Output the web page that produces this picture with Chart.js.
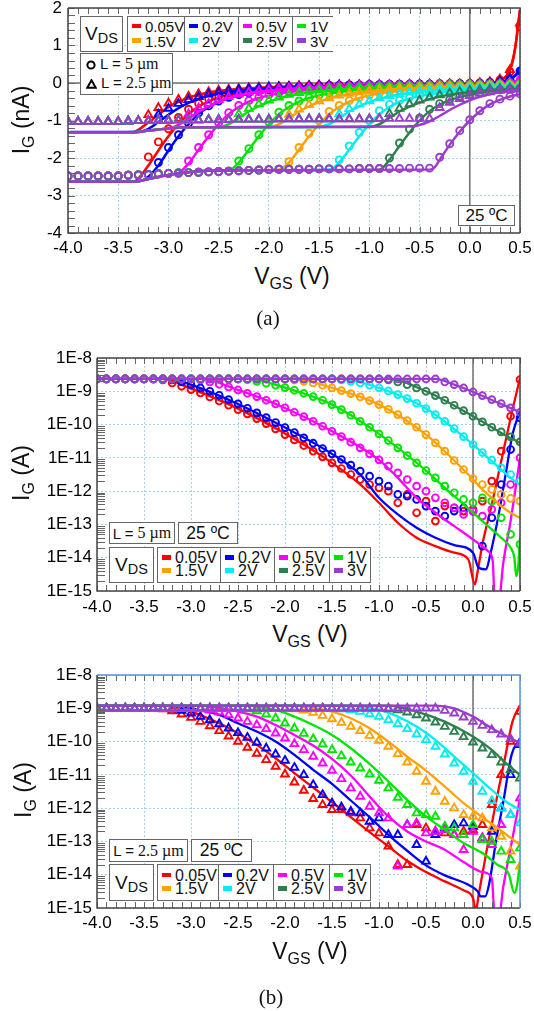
<!DOCTYPE html>
<html>
<head>
<meta charset="utf-8">
<title>IG vs VGS</title>
<script src="https://cdn.jsdelivr.net/npm/chart.js@4.4.1/dist/chart.umd.min.js"></script>
<style>
  html, body { margin: 0; padding: 0; background: #fff; }
  body { position: relative; width: 534px; height: 1011px; overflow: hidden;
         font-family: "Liberation Sans", Arial, sans-serif; color: #111; }
  canvas { position: absolute; left: 0; }
  .box { position: absolute; box-sizing: border-box; background: #fff; border: 1.5px solid #666; }
  .ctr { display: flex; align-items: center; justify-content: center; white-space: nowrap; }
  .lbl { position: absolute; white-space: nowrap; transform: translate(-50%, -50%); }
  .rot { transform: translate(-50%, -50%) rotate(-90deg); }
  .ttl { font-size: 23px; }
  .tsub { font-size: 16px; position: relative; top: 5px; }
  .dsub { font-size: 14.5px; position: relative; top: 4px; }
  .serif { font-family: "Liberation Serif", "Times New Roman", serif; }
  .vdiv { position: absolute; top: 0; bottom: 0; width: 0; border-left: 1.5px solid #666; }
  .sw { position: absolute; width: 9px; height: 4.5px; }
  .lt { position: absolute; line-height: 1; white-space: nowrap; }
  .lrow { position: absolute; left: 5px; white-space: nowrap; line-height: 17px; }
  .lrow svg { vertical-align: -1px; margin-right: 4px; }
</style>
</head>
<body>
<canvas id="chartA" width="534" height="262" style="top:0px"></canvas>
<canvas id="chartB" width="534" height="290" style="top:330px"></canvas>
<canvas id="chartC" width="534" height="290" style="top:650px"></canvas>

<!-- axis titles -->
<div class="lbl rot ttl" style="left:21px;top:120px">I<span class="tsub">G</span> (nA)</div>
<div class="lbl ttl" style="left:292px;top:276px">V<span class="tsub">GS</span> (V)</div>
<div class="lbl serif" style="left:268px;top:318px;font-size:21px">(a)</div>

<div class="lbl rot ttl" style="left:21px;top:473px">I<span class="tsub">G</span> (A)</div>
<div class="lbl ttl" style="left:310px;top:634px">V<span class="tsub">GS</span> (V)</div>

<div class="lbl rot ttl" style="left:23px;top:790px">I<span class="tsub">G</span> (A)</div>
<div class="lbl ttl" style="left:310px;top:951px">V<span class="tsub">GS</span> (V)</div>
<div class="lbl serif" style="left:271px;top:997px;font-size:21px">(b)</div>

<!-- panel (a) boxes -->
<div class="box ctr" style="left:80px;top:16px;width:43px;height:36px;font-size:19px">V<span class="dsub">DS</span></div>
<div class="box" style="left:80px;top:53px;width:93px;height:42px;font-size:15px">
  <div class="lrow" style="top:1px"><svg width="10" height="10" viewBox="0 0 10 10"><circle cx="5" cy="5" r="3.6" fill="none" stroke="#000" stroke-width="2"/></svg>L = <span class="serif" style="font-size:16px">5 µm</span></div>
  <div class="lrow" style="top:20px"><svg width="11" height="10" viewBox="0 0 11 10"><polygon points="5.5,1.2 9.8,8.8 1.2,8.8" fill="none" stroke="#000" stroke-width="2"/></svg>L = <span class="serif" style="font-size:16px">2.5 µm</span></div>
</div>
<div class="box ctr" style="left:458px;top:205px;width:57px;height:21px;font-size:17px">25 ºC</div>

<!-- panel (b) top boxes -->
<div class="box ctr" style="left:109px;top:522px;width:66px;height:22px;font-size:15px">L = <span class="serif" style="font-size:16px;margin-left:4px">5 µm</span></div>
<div class="box ctr" style="left:178px;top:522px;width:60px;height:22px;font-size:17.5px">25 ºC</div>
<div class="box ctr" style="left:109px;top:547px;width:45px;height:36px;font-size:19px">V<span class="dsub">DS</span></div>

<!-- panel (b) bottom boxes -->
<div class="box ctr" style="left:109px;top:839px;width:79px;height:23px;font-size:15px">L = <span class="serif" style="font-size:16px;margin-left:4px">2.5 µm</span></div>
<div class="box ctr" style="left:191px;top:839px;width:61px;height:23px;font-size:17.5px">25 ºC</div>
<div class="box ctr" style="left:109px;top:864px;width:45px;height:37px;font-size:19px">V<span class="dsub">DS</span></div>

<script>
// gate voltage grid of the measured points (V)
const vgs = [-4.0,-3.9,-3.8,-3.7,-3.6,-3.5,-3.4,-3.3,-3.2,-3.1,
             -3.0,-2.9,-2.8,-2.7,-2.6,-2.5,-2.4,-2.3,-2.2,-2.1,
             -2.0,-1.9,-1.8,-1.7,-1.6,-1.5,-1.4,-1.3,-1.2,-1.1,
             -1.0,-0.9,-0.8,-0.7,-0.6,-0.5,-0.4,-0.3,-0.2,-0.1,
              0.0, 0.1, 0.2, 0.3, 0.4, 0.5];

const vdsLabels = ['0.05V','0.2V','0.5V','1V','1.5V','2V','2.5V','3V'];
const colors = ['#ff0000','#0000ff','#ff00ff','#00e400','#ffa200','#00eef0','#2e7f4f','#9a3ccc'];

const xTickLabels = ['-4.0','-3.5','-3.0','-2.5','-2.0','-1.5','-1.0','-0.5','0.0','0.5'];
const aTickLabels = ['-4','-3','-2','-1','0','1','2'];
const logTickLabels = ['1E-15','1E-14','1E-13','1E-12','1E-11','1E-10','1E-9','1E-8'];

// (a) IG in nA, L = 5um circles, one list per VDS
const aCircle = [
  [-2.48,-2.48,-2.48,-2.48,-2.48,-2.48,-2.46,-2.45,-1.97,-1.57,
   -1.22,-0.92,-0.70,-0.54,-0.42,-0.34,-0.28,-0.23,-0.19,-0.16,
   -0.14,-0.12,-0.10,-0.09,-0.08,-0.07,-0.06,-0.06,-0.05,-0.05,
   -0.04,-0.04,-0.04,-0.03,-0.03,-0.03,-0.03,-0.02,-0.02,-0.02,
   -0.01,0.00,0.02,0.08,0.30,1.50],
  [-2.48,-2.48,-2.48,-2.48,-2.48,-2.48,-2.46,-2.45,-2.44,-2.12,
   -1.72,-1.38,-1.07,-0.80,-0.61,-0.48,-0.38,-0.31,-0.26,-0.22,
   -0.18,-0.15,-0.13,-0.11,-0.10,-0.09,-0.08,-0.07,-0.06,-0.06,
   -0.05,-0.05,-0.04,-0.04,-0.04,-0.03,-0.03,-0.03,-0.03,-0.02,
   -0.02,-0.01,0.00,0.03,0.10,0.32],
  [-2.48,-2.48,-2.48,-2.48,-2.48,-2.48,-2.46,-2.45,-2.44,-2.42,
   -2.41,-2.40,-2.08,-1.72,-1.38,-1.06,-0.79,-0.60,-0.47,-0.38,
   -0.31,-0.26,-0.22,-0.18,-0.15,-0.13,-0.11,-0.10,-0.09,-0.08,
   -0.07,-0.07,-0.06,-0.06,-0.05,-0.05,-0.05,-0.04,-0.04,-0.04,
   -0.03,-0.03,-0.02,-0.01,0.01,0.08],
  [-2.48,-2.48,-2.48,-2.48,-2.48,-2.48,-2.46,-2.45,-2.44,-2.42,
   -2.41,-2.40,-2.39,-2.38,-2.37,-2.36,-2.35,-2.08,-1.75,-1.38,
   -1.04,-0.78,-0.60,-0.48,-0.39,-0.32,-0.27,-0.23,-0.19,-0.16,
   -0.14,-0.12,-0.11,-0.10,-0.09,-0.08,-0.07,-0.07,-0.06,-0.06,
   -0.05,-0.05,-0.04,-0.04,-0.03,-0.02],
  [-2.48,-2.48,-2.48,-2.48,-2.48,-2.48,-2.46,-2.45,-2.44,-2.42,
   -2.41,-2.40,-2.39,-2.38,-2.37,-2.36,-2.35,-2.34,-2.33,-2.32,
   -2.31,-2.30,-2.10,-1.72,-1.34,-1.00,-0.76,-0.60,-0.47,-0.38,
   -0.32,-0.27,-0.23,-0.20,-0.17,-0.15,-0.13,-0.12,-0.11,-0.10,
   -0.09,-0.08,-0.07,-0.06,-0.06,-0.05],
  [-2.48,-2.48,-2.48,-2.48,-2.48,-2.48,-2.46,-2.45,-2.44,-2.42,
   -2.41,-2.40,-2.39,-2.38,-2.37,-2.36,-2.35,-2.34,-2.33,-2.32,
   -2.31,-2.30,-2.30,-2.30,-2.30,-2.29,-2.29,-2.05,-1.68,-1.32,
   -1.00,-0.74,-0.57,-0.46,-0.38,-0.32,-0.27,-0.23,-0.20,-0.18,
   -0.16,-0.14,-0.12,-0.11,-0.10,-0.09],
  [-2.48,-2.48,-2.48,-2.48,-2.48,-2.48,-2.46,-2.45,-2.44,-2.42,
   -2.41,-2.40,-2.39,-2.38,-2.37,-2.36,-2.35,-2.34,-2.33,-2.32,
   -2.31,-2.30,-2.30,-2.30,-2.30,-2.29,-2.29,-2.29,-2.29,-2.28,
   -2.28,-2.28,-2.00,-1.60,-1.23,-0.93,-0.70,-0.55,-0.44,-0.36,
   -0.30,-0.25,-0.21,-0.18,-0.16,-0.14],
  [-2.48,-2.48,-2.48,-2.48,-2.48,-2.48,-2.46,-2.45,-2.44,-2.42,
   -2.41,-2.40,-2.39,-2.38,-2.37,-2.36,-2.35,-2.34,-2.33,-2.32,
   -2.31,-2.30,-2.30,-2.30,-2.30,-2.29,-2.29,-2.29,-2.29,-2.28,
   -2.28,-2.28,-2.28,-2.28,-2.27,-2.27,-2.27,-1.98,-1.62,-1.27,
   -0.98,-0.74,-0.55,-0.43,-0.35,-0.29]
];

// (a) IG in nA, L = 2.5um triangles
const aTriangle = [
  [-1.03,-1.03,-1.03,-1.03,-1.03,-1.03,-1.02,-1.01,-0.85,-0.66,
   -0.54,-0.44,-0.36,-0.29,-0.24,-0.20,-0.17,-0.15,-0.13,-0.12,
   -0.11,-0.10,-0.09,-0.08,-0.07,-0.06,-0.06,-0.06,-0.06,-0.05,
   -0.05,-0.05,-0.05,-0.05,-0.05,-0.04,-0.04,-0.04,-0.03,-0.03,
   -0.02,0.00,0.03,0.10,0.35,1.60],
  [-1.03,-1.03,-1.03,-1.03,-1.03,-1.03,-1.02,-1.01,-1.01,-0.84,
   -0.68,-0.55,-0.45,-0.37,-0.30,-0.25,-0.21,-0.18,-0.16,-0.14,
   -0.12,-0.11,-0.10,-0.09,-0.08,-0.07,-0.07,-0.06,-0.06,-0.06,
   -0.05,-0.05,-0.05,-0.05,-0.04,-0.04,-0.04,-0.04,-0.03,-0.03,
   -0.03,-0.02,0.00,0.04,0.12,0.30],
  [-1.03,-1.03,-1.03,-1.03,-1.03,-1.03,-1.02,-1.01,-1.01,-1.00,
   -1.00,-0.99,-0.83,-0.67,-0.55,-0.45,-0.37,-0.30,-0.25,-0.21,
   -0.18,-0.16,-0.14,-0.13,-0.12,-0.11,-0.10,-0.09,-0.08,-0.07,
   -0.07,-0.06,-0.06,-0.06,-0.05,-0.05,-0.05,-0.05,-0.04,-0.04,
   -0.04,-0.03,-0.03,-0.02,0.00,0.06],
  [-1.03,-1.03,-1.03,-1.03,-1.03,-1.03,-1.02,-1.01,-1.01,-1.00,
   -1.00,-0.99,-0.99,-0.99,-0.98,-0.98,-0.98,-0.83,-0.68,-0.56,
   -0.46,-0.38,-0.31,-0.26,-0.22,-0.19,-0.16,-0.14,-0.13,-0.12,
   -0.11,-0.10,-0.09,-0.08,-0.08,-0.07,-0.07,-0.06,-0.06,-0.06,
   -0.05,-0.05,-0.05,-0.04,-0.04,-0.03],
  [-1.03,-1.03,-1.03,-1.03,-1.03,-1.03,-1.02,-1.01,-1.01,-1.00,
   -1.00,-0.99,-0.99,-0.99,-0.98,-0.98,-0.98,-0.97,-0.97,-0.97,
   -0.97,-0.96,-0.84,-0.70,-0.58,-0.48,-0.40,-0.33,-0.28,-0.24,
   -0.21,-0.18,-0.16,-0.14,-0.13,-0.12,-0.11,-0.10,-0.09,-0.09,
   -0.08,-0.08,-0.07,-0.07,-0.06,-0.06],
  [-1.03,-1.03,-1.03,-1.03,-1.03,-1.03,-1.02,-1.01,-1.01,-1.00,
   -1.00,-0.99,-0.99,-0.99,-0.98,-0.98,-0.98,-0.97,-0.97,-0.97,
   -0.97,-0.96,-0.96,-0.96,-0.96,-0.96,-0.96,-0.83,-0.69,-0.57,
   -0.48,-0.40,-0.34,-0.29,-0.25,-0.22,-0.19,-0.17,-0.15,-0.14,
   -0.13,-0.12,-0.11,-0.10,-0.10,-0.09],
  [-1.03,-1.03,-1.03,-1.03,-1.03,-1.03,-1.02,-1.01,-1.01,-1.00,
   -1.00,-0.99,-0.99,-0.99,-0.98,-0.98,-0.98,-0.97,-0.97,-0.97,
   -0.97,-0.96,-0.96,-0.96,-0.96,-0.96,-0.96,-0.96,-0.96,-0.96,
   -0.96,-0.95,-0.82,-0.68,-0.56,-0.46,-0.38,-0.32,-0.27,-0.23,
   -0.20,-0.18,-0.16,-0.15,-0.14,-0.13],
  [-1.03,-1.03,-1.03,-1.03,-1.03,-1.03,-1.02,-1.01,-1.01,-1.00,
   -1.00,-0.99,-0.99,-0.99,-0.98,-0.98,-0.98,-0.97,-0.97,-0.97,
   -0.97,-0.96,-0.96,-0.96,-0.96,-0.96,-0.96,-0.96,-0.96,-0.96,
   -0.96,-0.95,-0.95,-0.95,-0.95,-0.95,-0.95,-0.66,-0.52,-0.42,
   -0.34,-0.28,-0.24,-0.20,-0.18,-0.16]
];

// (a) model curves [VGS, IG nA]
const aFit5 = [
  [[-4,-2.63],[-3.35,-2.63],[-3.3,-2.55],[-3.2,-2.2],[-3.1,-1.8],[-3.0,-1.42],[-2.9,-1.1],[-2.8,-0.83],[-2.7,-0.63],[-2.6,-0.49],[-2.5,-0.39],[-2.4,-0.32],[-2.2,-0.23],[-2.0,-0.17],[-1.6,-0.11],[-1.0,-0.07],[-0.5,-0.05],[0.0,-0.03],[0.2,0.0],[0.3,0.06],[0.4,0.35],[0.45,0.9],[0.5,1.95]],
  [[-4,-2.63],[-3.3,-2.62],[-3.2,-2.5],[-3.1,-2.2],[-3.0,-1.8],[-2.9,-1.42],[-2.8,-1.1],[-2.7,-0.83],[-2.6,-0.64],[-2.5,-0.5],[-2.4,-0.4],[-2.2,-0.28],[-2.0,-0.2],[-1.6,-0.13],[-1.0,-0.08],[-0.5,-0.06],[0.0,-0.04],[0.2,-0.02],[0.3,0.02],[0.4,0.1],[0.5,0.3]],
  [[-4,-2.63],[-3.35,-2.63],[-3.2,-2.56],[-3.0,-2.45],[-2.9,-2.4],[-2.8,-2.15],[-2.7,-1.78],[-2.6,-1.42],[-2.5,-1.1],[-2.4,-0.83],[-2.3,-0.64],[-2.2,-0.5],[-2.1,-0.4],[-2.0,-0.33],[-1.8,-0.24],[-1.5,-0.16],[-1.0,-0.1],[-0.5,-0.07],[0.0,-0.05],[0.3,-0.03],[0.5,0.06]],
  [[-4,-2.63],[-3.35,-2.63],[-3.2,-2.56],[-3.0,-2.45],[-2.8,-2.38],[-2.6,-2.34],[-2.4,-2.33],[-2.3,-2.12],[-2.2,-1.78],[-2.1,-1.42],[-2.0,-1.1],[-1.9,-0.83],[-1.8,-0.64],[-1.7,-0.5],[-1.6,-0.4],[-1.5,-0.33],[-1.3,-0.24],[-1.0,-0.16],[-0.5,-0.1],[0.0,-0.07],[0.5,-0.04]],
  [[-4,-2.63],[-3.35,-2.63],[-3.2,-2.56],[-3.0,-2.45],[-2.8,-2.38],[-2.6,-2.34],[-2.4,-2.33],[-1.9,-2.31],[-1.8,-2.12],[-1.7,-1.78],[-1.6,-1.42],[-1.5,-1.1],[-1.4,-0.83],[-1.3,-0.64],[-1.2,-0.5],[-1.1,-0.4],[-1.0,-0.33],[-0.8,-0.24],[-0.5,-0.16],[0.0,-0.1],[0.5,-0.06]],
  [[-4,-2.63],[-3.35,-2.63],[-3.2,-2.56],[-3.0,-2.45],[-2.8,-2.38],[-2.6,-2.34],[-2.4,-2.33],[-1.4,-2.31],[-1.3,-2.12],[-1.2,-1.78],[-1.1,-1.42],[-1.0,-1.1],[-0.9,-0.83],[-0.8,-0.64],[-0.7,-0.5],[-0.6,-0.41],[-0.5,-0.35],[-0.3,-0.26],[0.0,-0.18],[0.5,-0.1]],
  [[-4,-2.63],[-3.35,-2.63],[-3.2,-2.56],[-3.0,-2.45],[-2.8,-2.38],[-2.6,-2.34],[-2.4,-2.33],[-0.9,-2.31],[-0.8,-2.05],[-0.7,-1.68],[-0.6,-1.32],[-0.5,-1.0],[-0.4,-0.75],[-0.3,-0.58],[-0.2,-0.46],[-0.1,-0.38],[0.0,-0.32],[0.2,-0.23],[0.5,-0.15]],
  [[-4,-2.63],[-3.35,-2.63],[-3.2,-2.56],[-3.0,-2.45],[-2.8,-2.38],[-2.6,-2.34],[-2.4,-2.33],[-0.4,-2.31],[-0.35,-2.25],[-0.3,-2.05],[-0.2,-1.65],[-0.1,-1.3],[0.0,-1.0],[0.1,-0.76],[0.2,-0.57],[0.3,-0.45],[0.4,-0.36],[0.5,-0.3]]
];
const aFit25 = [
  [[-4,-1.31],[-3.35,-1.31],[-3.3,-1.25],[-3.2,-1.05],[-3.1,-0.85],[-3.0,-0.64],[-2.9,-0.5],[-2.8,-0.39],[-2.7,-0.31],[-2.6,-0.25],[-2.4,-0.18],[-2.2,-0.14],[-2.0,-0.11],[-1.5,-0.07],[-1.0,-0.05],[-0.5,-0.04],[0.0,-0.02],[0.2,0.0],[0.3,0.06],[0.4,0.35],[0.45,0.9],[0.5,1.95]],
  [[-4,-1.31],[-3.3,-1.3],[-3.2,-1.22],[-3.1,-1.04],[-3.0,-0.85],[-2.9,-0.67],[-2.8,-0.53],[-2.7,-0.42],[-2.6,-0.34],[-2.5,-0.28],[-2.3,-0.2],[-2.0,-0.14],[-1.5,-0.09],[-1.0,-0.07],[-0.5,-0.05],[0.0,-0.04],[0.2,-0.02],[0.3,0.02],[0.4,0.1],[0.5,0.3]],
  [[-4,-1.31],[-3.35,-1.31],[-3.2,-1.27],[-3.0,-1.21],[-2.9,-1.12],[-2.8,-0.95],[-2.7,-0.77],[-2.6,-0.62],[-2.5,-0.5],[-2.4,-0.4],[-2.3,-0.33],[-2.2,-0.27],[-2.0,-0.2],[-1.7,-0.14],[-1.2,-0.09],[-0.5,-0.06],[0.0,-0.05],[0.3,-0.03],[0.5,0.06]],
  [[-4,-1.31],[-3.35,-1.31],[-3.2,-1.27],[-3.0,-1.21],[-2.8,-1.18],[-2.5,-1.18],[-2.4,-1.1],[-2.3,-0.93],[-2.2,-0.76],[-2.1,-0.62],[-2.0,-0.5],[-1.9,-0.41],[-1.8,-0.34],[-1.7,-0.28],[-1.5,-0.21],[-1.2,-0.15],[-0.7,-0.1],[0.0,-0.07],[0.5,-0.04]],
  [[-4,-1.31],[-3.35,-1.31],[-3.2,-1.27],[-3.0,-1.21],[-2.8,-1.18],[-2.0,-1.18],[-1.9,-1.1],[-1.8,-0.93],[-1.7,-0.76],[-1.6,-0.62],[-1.5,-0.5],[-1.4,-0.41],[-1.3,-0.34],[-1.2,-0.29],[-1.0,-0.22],[-0.7,-0.16],[-0.2,-0.11],[0.5,-0.07]],
  [[-4,-1.31],[-3.35,-1.31],[-3.2,-1.27],[-3.0,-1.21],[-2.8,-1.18],[-1.5,-1.17],[-1.4,-1.1],[-1.3,-0.93],[-1.2,-0.76],[-1.1,-0.62],[-1.0,-0.51],[-0.9,-0.42],[-0.8,-0.35],[-0.7,-0.3],[-0.5,-0.23],[-0.2,-0.17],[0.2,-0.13],[0.5,-0.11]],
  [[-4,-1.31],[-3.35,-1.31],[-3.2,-1.27],[-3.0,-1.21],[-2.8,-1.18],[-1.0,-1.17],[-0.9,-1.1],[-0.8,-0.93],[-0.7,-0.76],[-0.6,-0.63],[-0.5,-0.52],[-0.4,-0.43],[-0.3,-0.36],[-0.2,-0.31],[0.0,-0.24],[0.2,-0.19],[0.5,-0.15]],
  [[-4,-1.31],[-3.35,-1.31],[-3.2,-1.27],[-3.0,-1.21],[-2.8,-1.18],[-0.6,-1.16],[-0.5,-1.12],[-0.4,-1.02],[-0.3,-0.88],[-0.2,-0.72],[-0.1,-0.58],[0.0,-0.46],[0.1,-0.37],[0.2,-0.3],[0.3,-0.25],[0.4,-0.21],[0.5,-0.18]]
];

// (b) top, L = 5um: log10(IG / A)
const bCircle = [
  [-8.63,-8.63,-8.63,-8.63,-8.63,-8.63,-8.63,-8.66,-8.75,-8.85,
   -8.95,-9.05,-9.17,-9.29,-9.42,-9.55,-9.68,-9.82,-9.97,-10.13,
   -10.30,-10.46,-10.63,-10.80,-10.97,-11.15,-11.32,-11.50,-11.65,-11.80,
   -11.90,-12.00,-12.35,-12.10,-12.65,-12.30,-12.90,-12.45,-12.50,-12.60,
   -12.55,-12.30,-11.70,-10.80,-9.75,-8.65],
  [-8.63,-8.63,-8.63,-8.63,-8.63,-8.63,-8.63,-8.63,-8.66,-8.72,
   -8.80,-8.90,-9.00,-9.12,-9.25,-9.38,-9.51,-9.65,-9.79,-9.94,
   -10.09,-10.24,-10.40,-10.56,-10.72,-10.88,-11.05,-11.22,-11.40,-11.55,
   -11.70,-11.85,-12.10,-12.15,-12.25,-12.45,-12.60,-12.75,-12.60,-12.50,
   -12.60,-13.65,-12.80,-11.80,-10.75,-9.80],
  [-8.63,-8.63,-8.63,-8.63,-8.63,-8.63,-8.63,-8.63,-8.63,-8.63,
   -8.63,-8.66,-8.72,-8.79,-8.87,-8.96,-9.06,-9.16,-9.27,-9.38,
   -9.50,-9.63,-9.76,-9.90,-10.05,-10.20,-10.36,-10.53,-10.70,-10.88,
   -11.06,-11.25,-11.45,-11.65,-11.85,-12.00,-12.20,-12.35,-12.50,-12.70,
   -12.60,-12.75,-12.55,-12.35,-11.80,-11.00],
  [-8.63,-8.63,-8.63,-8.63,-8.63,-8.63,-8.63,-8.63,-8.63,-8.63,
   -8.63,-8.63,-8.63,-8.63,-8.63,-8.63,-8.65,-8.70,-8.76,-8.82,
   -8.89,-8.97,-9.06,-9.16,-9.27,-9.40,-9.55,-9.72,-9.90,-10.08,
   -10.28,-10.48,-10.70,-10.93,-11.15,-11.38,-11.60,-11.85,-12.05,-12.25,
   -12.35,-12.20,-12.30,-12.80,-13.30,-13.60],
  [-8.63,-8.63,-8.63,-8.63,-8.63,-8.63,-8.63,-8.63,-8.63,-8.63,
   -8.63,-8.63,-8.63,-8.63,-8.63,-8.63,-8.63,-8.63,-8.63,-8.63,
   -8.63,-8.66,-8.70,-8.75,-8.82,-8.90,-8.98,-9.07,-9.17,-9.28,
   -9.40,-9.54,-9.70,-9.88,-10.08,-10.30,-10.55,-10.80,-11.08,-11.35,
   -11.62,-11.80,-11.95,-12.10,-12.22,-12.30],
  [-8.63,-8.63,-8.63,-8.63,-8.63,-8.63,-8.63,-8.63,-8.63,-8.63,
   -8.63,-8.63,-8.63,-8.63,-8.63,-8.63,-8.63,-8.63,-8.63,-8.63,
   -8.63,-8.63,-8.63,-8.63,-8.63,-8.63,-8.66,-8.70,-8.75,-8.82,
   -8.90,-8.99,-9.10,-9.22,-9.36,-9.52,-9.70,-9.90,-10.12,-10.36,
   -10.60,-10.84,-11.07,-11.30,-11.50,-11.70],
  [-8.63,-8.63,-8.63,-8.63,-8.63,-8.63,-8.63,-8.63,-8.63,-8.63,
   -8.63,-8.63,-8.63,-8.63,-8.63,-8.63,-8.63,-8.63,-8.63,-8.63,
   -8.63,-8.63,-8.63,-8.63,-8.63,-8.63,-8.63,-8.63,-8.63,-8.63,
   -8.63,-8.66,-8.72,-8.80,-8.90,-9.00,-9.13,-9.27,-9.42,-9.58,
   -9.75,-9.92,-10.08,-10.22,-10.37,-10.52],
  [-8.63,-8.63,-8.63,-8.63,-8.63,-8.63,-8.63,-8.63,-8.63,-8.63,
   -8.63,-8.63,-8.63,-8.63,-8.63,-8.63,-8.63,-8.63,-8.63,-8.63,
   -8.63,-8.63,-8.63,-8.63,-8.63,-8.63,-8.63,-8.63,-8.63,-8.63,
   -8.63,-8.63,-8.63,-8.63,-8.63,-8.63,-8.63,-8.72,-8.80,-8.90,
   -9.02,-9.13,-9.25,-9.37,-9.50,-9.63]
];
const bFit = [
  [[-4,-8.63],[-3.3,-8.63],[-3.0,-8.92],[-2.5,-9.52],[-2.0,-10.27],[-1.5,-11.15],[-1.2,-11.8],[-1.0,-12.35],[-0.8,-12.95],[-0.6,-13.4],[-0.4,-13.65],[-0.2,-13.85],[-0.05,-14.05],[0.02,-14.8],[0.05,-14.4],[0.1,-13.6],[0.2,-12.4],[0.3,-11.1],[0.4,-9.8],[0.5,-8.6]],
  [[-4,-8.63],[-3.2,-8.63],[-3.0,-8.8],[-2.5,-9.38],[-2.0,-10.09],[-1.5,-10.88],[-1.2,-11.5],[-1.0,-12.2],[-0.8,-12.7],[-0.6,-13.1],[-0.4,-13.4],[-0.2,-13.62],[0.0,-13.85],[0.06,-14.3],[0.14,-14.35],[0.18,-13.95],[0.27,-12.75],[0.35,-11.45],[0.42,-10.3],[0.5,-9.6]],
  [[-4,-8.63],[-2.9,-8.63],[-2.5,-8.96],[-2.0,-9.5],[-1.5,-10.2],[-1.0,-11.06],[-0.8,-11.6],[-0.6,-12.2],[-0.4,-12.65],[-0.2,-13.05],[0.0,-13.45],[0.16,-13.8],[0.21,-14.1],[0.23,-15.2],[0.28,-15.2],[0.32,-14.2],[0.4,-12.9],[0.5,-11.0]],
  [[-4,-8.63],[-2.4,-8.63],[-2.0,-8.89],[-1.5,-9.4],[-1.0,-10.28],[-0.5,-11.38],[-0.3,-11.9],[-0.1,-12.4],[0.0,-12.65],[0.1,-12.9],[0.2,-13.15],[0.3,-13.4],[0.4,-13.7],[0.44,-14.0],[0.46,-14.55],[0.48,-14.3],[0.5,-13.4]],
  [[-4,-8.63],[-1.9,-8.63],[-1.5,-8.9],[-1.0,-9.4],[-0.5,-10.3],[-0.2,-11.08],[0.0,-11.65],[0.1,-11.95],[0.2,-12.2],[0.3,-12.45],[0.4,-12.65],[0.5,-12.8]],
  [[-4,-8.63],[-1.4,-8.63],[-1.0,-8.9],[-0.5,-9.52],[0.0,-10.6],[0.2,-11.1],[0.3,-11.35],[0.4,-11.6],[0.5,-11.8]],
  [[-4,-8.63],[-0.9,-8.63],[-0.5,-9.0],[0.0,-9.75],[0.3,-10.25],[0.5,-10.55]],
  [[-4,-8.63],[-0.4,-8.63],[-0.2,-8.8],[0.0,-9.02],[0.5,-9.63]]
];

// (b) bottom, L = 2.5um: log10(IG / A)
const cTriangle = [
  [-9.00,-9.00,-9.00,-9.00,-9.00,-9.00,-9.00,-9.02,-9.08,-9.18,
   -9.28,-9.40,-9.53,-9.68,-9.84,-10.00,-10.18,-10.36,-10.55,-10.75,
   -10.98,-11.22,-11.47,-11.72,-11.90,-12.05,-12.05,-12.15,-12.30,-12.60,
   -12.75,-13.15,-13.70,-13.70,-12.50,-12.60,-12.70,-12.75,-12.80,-12.70,
   -12.65,-12.50,-11.90,-11.00,-10.00,-9.10],
  [-9.00,-9.00,-9.00,-9.00,-9.00,-9.00,-9.00,-9.00,-9.02,-9.07,
   -9.15,-9.25,-9.35,-9.47,-9.60,-9.74,-9.88,-10.03,-10.20,-10.38,
   -10.57,-10.78,-11.00,-11.30,-11.60,-11.85,-11.97,-12.10,-12.15,-12.40,
   -12.30,-12.80,-12.80,-12.50,-13.10,-13.60,-12.80,-12.60,-12.50,-12.45,
   -12.55,-12.90,-12.70,-12.00,-11.00,-10.10],
  [-9.00,-9.00,-9.00,-9.00,-9.00,-9.00,-9.00,-9.00,-9.00,-9.00,
   -9.00,-9.02,-9.06,-9.12,-9.20,-9.30,-9.40,-9.50,-9.62,-9.75,
   -9.90,-10.07,-10.25,-10.45,-10.65,-10.87,-11.12,-11.40,-11.65,-11.95,
   -12.15,-12.30,-13.75,-12.50,-12.45,-12.75,-12.70,-12.65,-12.80,-13.25,
   -12.70,-12.90,-13.10,-12.50,-12.20,-11.70],
  [-9.00,-9.00,-9.00,-9.00,-9.00,-9.00,-9.00,-9.00,-9.00,-9.00,
   -9.00,-9.00,-9.00,-9.00,-9.00,-9.00,-9.02,-9.08,-9.18,-9.30,
   -9.45,-9.60,-9.76,-9.92,-10.08,-10.25,-10.43,-10.62,-10.80,-10.98,
   -11.17,-11.40,-11.68,-11.90,-12.15,-12.20,-12.25,-12.55,-12.60,-12.80,
   -12.50,-12.95,-13.00,-13.30,-13.55,-13.20],
  [-9.00,-9.00,-9.00,-9.00,-9.00,-9.00,-9.00,-9.00,-9.00,-9.00,
   -9.00,-9.00,-9.00,-9.00,-9.00,-9.00,-9.00,-9.00,-9.00,-9.00,
   -9.00,-9.02,-9.06,-9.13,-9.22,-9.32,-9.43,-9.55,-9.68,-9.82,
   -9.97,-10.15,-10.37,-10.62,-10.90,-11.20,-11.50,-11.80,-12.00,-12.20,
   -12.25,-12.30,-12.60,-12.85,-13.30,-13.75],
  [-9.00,-9.00,-9.00,-9.00,-9.00,-9.00,-9.00,-9.00,-9.00,-9.00,
   -9.00,-9.00,-9.00,-9.00,-9.00,-9.00,-9.00,-9.00,-9.00,-9.00,
   -9.00,-9.00,-9.00,-9.00,-9.00,-9.00,-9.02,-9.05,-9.10,-9.17,
   -9.25,-9.35,-9.47,-9.62,-9.78,-9.95,-10.15,-10.38,-10.65,-10.90,
   -11.20,-11.50,-11.78,-12.00,-12.20,-12.45],
  [-9.00,-9.00,-9.00,-9.00,-9.00,-9.00,-9.00,-9.00,-9.00,-9.00,
   -9.00,-9.00,-9.00,-9.00,-9.00,-9.00,-9.00,-9.00,-9.00,-9.00,
   -9.00,-9.00,-9.00,-9.00,-9.00,-9.00,-9.00,-9.00,-9.00,-9.00,
   -9.00,-9.02,-9.05,-9.12,-9.20,-9.30,-9.42,-9.55,-9.70,-9.86,
   -10.02,-10.20,-10.40,-10.62,-10.85,-11.10],
  [-9.00,-9.00,-9.00,-9.00,-9.00,-9.00,-9.00,-9.00,-9.00,-9.00,
   -9.00,-9.00,-9.00,-9.00,-9.00,-9.00,-9.00,-9.00,-9.00,-9.00,
   -9.00,-9.00,-9.00,-9.00,-9.00,-9.00,-9.00,-9.00,-9.00,-9.00,
   -9.00,-9.00,-9.00,-9.00,-9.00,-9.00,-9.00,-9.07,-9.15,-9.27,
   -9.40,-9.52,-9.65,-9.78,-9.92,-10.05]
];
const cFit = [
  [[-4,-8.92],[-3.3,-8.92],[-3.0,-9.1],[-2.7,-9.45],[-2.5,-9.75],[-2.3,-10.1],[-2.1,-10.5],[-1.9,-10.95],[-1.7,-11.38],[-1.5,-11.82],[-1.3,-12.27],[-1.1,-12.72],[-0.9,-13.15],[-0.7,-13.58],[-0.5,-13.92],[-0.3,-14.2],[-0.1,-14.47],[0.0,-14.7],[0.03,-15.1],[0.06,-14.6],[0.15,-13.2],[0.25,-11.75],[0.35,-10.35],[0.42,-9.4],[0.5,-8.9]],
  [[-4,-8.92],[-3.2,-8.92],[-3.0,-9.0],[-2.7,-9.2],[-2.5,-9.45],[-2.3,-9.7],[-2.1,-10.0],[-1.9,-10.4],[-1.7,-10.85],[-1.5,-11.27],[-1.3,-11.77],[-1.1,-12.27],[-0.9,-12.8],[-0.7,-13.28],[-0.5,-13.72],[-0.3,-14.02],[-0.05,-14.3],[0.05,-14.5],[0.08,-14.65],[0.13,-14.65],[0.17,-14.3],[0.25,-12.9],[0.32,-11.85],[0.41,-10.4],[0.5,-9.9]],
  [[-4,-8.92],[-2.9,-8.92],[-2.5,-9.1],[-2.3,-9.25],[-2.1,-9.5],[-1.9,-9.8],[-1.7,-10.12],[-1.5,-10.52],[-1.3,-11.02],[-1.1,-11.65],[-0.9,-12.25],[-0.7,-12.7],[-0.5,-13.0],[-0.3,-13.25],[-0.1,-13.62],[0.1,-13.92],[0.2,-14.1],[0.23,-15.2],[0.28,-15.2],[0.32,-14.4],[0.4,-13.2],[0.5,-11.7]],
  [[-4,-8.92],[-2.4,-8.92],[-2.1,-9.05],[-1.9,-9.25],[-1.7,-9.5],[-1.5,-9.8],[-1.3,-10.2],[-1.1,-10.67],[-0.9,-11.2],[-0.7,-11.75],[-0.5,-12.25],[-0.3,-12.65],[-0.1,-13.05],[0.1,-13.35],[0.25,-13.68],[0.38,-13.98],[0.44,-14.55],[0.47,-14.3],[0.5,-13.6]],
  [[-4,-8.92],[-1.9,-8.92],[-1.5,-9.1],[-1.3,-9.3],[-1.1,-9.6],[-0.9,-10.0],[-0.7,-10.45],[-0.5,-10.87],[-0.3,-11.35],[-0.1,-11.85],[0.1,-12.27],[0.3,-12.68],[0.5,-13.1]],
  [[-4,-8.92],[-1.4,-8.92],[-1.0,-9.05],[-0.8,-9.25],[-0.6,-9.55],[-0.4,-9.95],[-0.2,-10.45],[0.0,-10.95],[0.2,-11.45],[0.35,-11.8],[0.5,-12.05]],
  [[-4,-8.92],[-0.9,-8.92],[-0.6,-9.1],[-0.3,-9.4],[0.0,-9.85],[0.2,-10.25],[0.35,-10.65],[0.5,-11.0]],
  [[-4,-8.92],[-0.4,-8.92],[-0.2,-9.0],[0.0,-9.25],[0.2,-9.6],[0.5,-10.05]]
];

const ident = v => v;
const toAmp = e => Math.pow(10, e);

Chart.defaults.font.family = '"Liberation Sans", Arial, sans-serif';
Chart.defaults.color = '#000';

// frame, zero lines and inward minor ticks
const framePlugin = {
  id: 'frame',
  beforeDatasetsDraw(chart, args, o) {
    const {ctx, chartArea: a, scales: {x, y}} = chart;
    ctx.save();
    ctx.strokeStyle = '#707070';
    ctx.lineWidth = 1.5;
    ctx.beginPath();
    const x0 = x.getPixelForValue(0);
    ctx.moveTo(x0, a.top); ctx.lineTo(x0, a.bottom);
    if (!o.log) {
      const y0 = y.getPixelForValue(0);
      ctx.moveTo(a.left, y0); ctx.lineTo(a.right, y0);
    }
    ctx.stroke();
    ctx.restore();
  },
  afterDatasetsDraw(chart, args, o) {
    const {ctx, chartArea: a, scales: {x, y}} = chart;
    ctx.save();
    ctx.strokeStyle = '#666';
    ctx.lineWidth = 1;
    ctx.beginPath();
    for (let i = -40; i <= 5; i++) {
      const px = Math.round(x.getPixelForValue(i / 10)) + 0.5;
      ctx.moveTo(px, a.bottom); ctx.lineTo(px, a.bottom - 6);
      ctx.moveTo(px, a.top); ctx.lineTo(px, a.top + 6);
    }
    if (o.log) {
      for (let d = -15; d < -8; d++) {
        for (let m = 2; m <= 9; m++) {
          const py = Math.round(y.getPixelForValue(m * Math.pow(10, d))) + 0.5;
          ctx.moveTo(a.left, py); ctx.lineTo(a.left + 8, py);
        }
      }
    } else {
      for (let i = -20; i <= 10; i++) {
        const py = Math.round(y.getPixelForValue(i / 5)) + 0.5;
        ctx.moveTo(a.left, py); ctx.lineTo(a.left + 7, py);
      }
    }
    ctx.stroke();
    ctx.lineWidth = 1.5;
    ctx.strokeStyle = '#444';
    ctx.beginPath();
    ctx.moveTo(a.left, a.top); ctx.lineTo(a.left, a.bottom); ctx.lineTo(a.right, a.bottom);
    ctx.stroke();
    ctx.strokeStyle = o.edge || '#444';
    ctx.beginPath();
    ctx.moveTo(a.left, a.top); ctx.lineTo(a.right, a.top); ctx.lineTo(a.right, a.bottom);
    ctx.stroke();
    ctx.restore();
  }
};

function seriesSets(markers, style, radius, fits, conv, slot, lw) {
  const out = [];
  markers.forEach((ys, k) => {
    out.push({
      data: ys.map((v, i) => ({x: vgs[i], y: conv(v)})),
      showLine: false,
      pointStyle: style,
      pointRadius: radius,
      pointBorderWidth: 1.9,
      borderColor: colors[k],
      backgroundColor: 'rgba(0,0,0,0)',
      order: (colors.length - 1 - k) * 4 + slot * 2
    });
  });
  fits.forEach((pairs, k) => {
    out.push({
      data: pairs.map(p => ({x: p[0], y: conv(p[1])})),
      showLine: true,
      pointRadius: 0,
      borderWidth: lw,
      borderColor: colors[k],
      backgroundColor: colors[k],
      cubicInterpolationMode: 'monotone',
      order: (colors.length - 1 - k) * 4 + slot * 2 + 1
    });
  });
  return out;
}

function makeChart(id, datasets, g) {
  const yTicks = g.log ? logTickLabels : aTickLabels;
  const gridStyle = {color: '#a6d3ee', lineWidth: 1, drawTicks: false};
  return new Chart(document.getElementById(id), {
    type: 'scatter',
    data: {datasets},
    options: {
      responsive: false,
      animation: false,
      events: [],
      layout: {padding: {left: 0, right: 14, top: g.top, bottom: 0}},
      plugins: {legend: {display: false}, tooltip: {enabled: false}, frame: {log: g.log, edge: g.edge}},
      scales: {
        x: {
          type: 'linear', position: 'bottom', min: -4, max: 0.5,
          afterBuildTicks: s => { s.ticks = xTickLabels.map(t => ({value: parseFloat(t)})); },
          afterFit: s => { s.height = g.xH; s.paddingLeft = 0; s.paddingRight = 0; },
          ticks: {autoSkip: false, maxRotation: 0, padding: g.xPad, font: {size: 17}, color: '#000',
                  callback: (v, i) => xTickLabels[i]},
          grid: gridStyle,
          border: {display: false, dash: [2, 2]}
        },
        y: {
          type: g.log ? 'logarithmic' : 'linear', position: 'left',
          min: g.log ? 1e-15 : -4, max: g.log ? 1e-8 : 2,
          afterBuildTicks: s => { s.ticks = yTicks.map(t => ({value: parseFloat(t)})); },
          afterFit: s => { s.width = g.yW; s.paddingTop = 0; s.paddingBottom = 0; },
          ticks: {autoSkip: false, padding: g.yPad, font: {size: 17}, color: '#000',
                  callback: (v, i) => yTicks[i]},
          grid: gridStyle,
          border: {display: false, dash: [2, 2]}
        }
      }
    },
    plugins: [framePlugin]
  });
}

makeChart('chartA',
  seriesSets(aCircle, 'circle', 3.5, aFit5, ident, 0, 2.5)
    .concat(seriesSets(aTriangle, 'triangle', 4.5, aFit25, ident, 1, 2.5)),
  {log: false, top: 8, xH: 29, yW: 68, xPad: 5, yPad: 6});

makeChart('chartB', seriesSets(bCircle, 'circle', 3.4, bFit, toAmp, 0, 2.3),
  {log: true, top: 28, xH: 29, yW: 97, xPad: 6, yPad: 5});

makeChart('chartC', seriesSets(cTriangle, 'triangle', 4.5, cFit, toAmp, 0, 2.3),
  {log: true, top: 25, xH: 32, yW: 97, xPad: 5, yPad: 5, edge: '#5a93d4'});

// VDS colour keys
function colorLegend(l, t, w, h, dividers, rowY, fs, openRight) {
  const box = document.createElement('div');
  box.className = 'box';
  box.style.cssText = `left:${l}px;top:${t}px;width:${w}px;height:${h}px;` + (openRight ? 'border-right:none;' : '');
  const edges = [0].concat(dividers);
  for (let c = 0; c < 4; c++) {
    if (c > 0) {
      const d = document.createElement('div');
      d.className = 'vdiv';
      d.style.left = (edges[c] - 1) + 'px';
      box.appendChild(d);
    }
    for (let r = 0; r < 2; r++) {
      const k = c + 4 * r;
      const sw = document.createElement('span');
      sw.className = 'sw';
      sw.style.cssText = `left:${edges[c] + 4}px;top:${rowY[r] - 3}px;background:${colors[k]}`;
      const tx = document.createElement('span');
      tx.className = 'lt';
      tx.style.cssText = `left:${edges[c] + 17}px;top:${rowY[r] - fs * 0.5}px;font-size:${fs}px`;
      tx.textContent = vdsLabels[k];
      box.appendChild(sw);
      box.appendChild(tx);
    }
  }
  document.body.appendChild(box);
}

colorLegend(127, 16, 206, 36, [57, 111, 165], [9.5, 24], 15, true);
colorLegend(157, 547, 214, 36, [63, 117, 172], [10, 23], 16, false);
colorLegend(157, 864, 214, 37, [61, 116, 172], [10.5, 24], 16, false);
</script>
</body>
</html>
